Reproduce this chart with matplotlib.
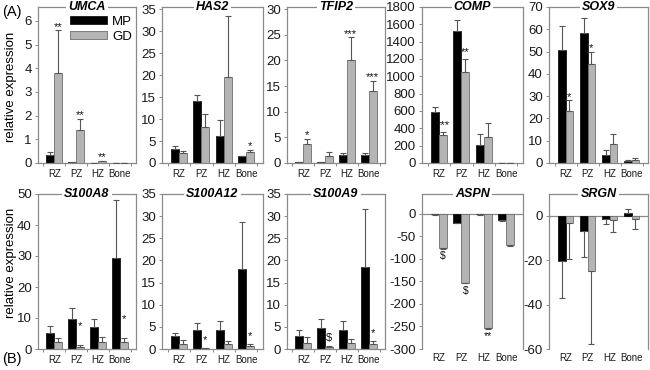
import matplotlib
matplotlib.use('Agg')
import matplotlib.pyplot as plt
from matplotlib.patches import Patch
import numpy as np

plt.rcParams['font.family'] = ['Liberation Sans', 'DejaVu Sans']

zones = ['RZ', 'PZ', 'HZ', 'Bone']

umca_mp = [0.32, 0.03, 0.01, 0.005]
umca_mp_err = [0.13, 0.02, 0.01, 0.0]
umca_gd = [3.82, 1.40, 0.07, 0.003]
umca_gd_err = [1.78, 0.47, 0.03, 0.0]
umca_sig = ['**', '**', '**', '']

has2_mp = [3.2, 14.0, 6.1, 1.5]
has2_mp_err = [0.7, 1.5, 3.6, 0.2]
has2_gd = [2.3, 8.3, 19.5, 2.6]
has2_gd_err = [0.5, 2.8, 14.0, 0.4]
has2_sig = ['', '', '', '*']

tfip2_mp = [0.1, 0.15, 1.55, 1.6]
tfip2_mp_err = [0.05, 0.05, 0.45, 0.4]
tfip2_gd = [3.7, 1.3, 20.1, 14.0]
tfip2_gd_err = [1.0, 0.8, 4.4, 2.0]
tfip2_sig = ['*', '', '***', '***']

comp_mp = [592, 1523, 212, 3]
comp_mp_err = [54, 123, 119, 0]
comp_gd = [323, 1050, 304, 2]
comp_gd_err = [39, 150, 158, 0]
comp_sig = ['***', '**', '', '']

sox9_mp = [50.8, 58.3, 3.7, 1.0]
sox9_mp_err = [10.5, 6.7, 2.3, 0.3]
sox9_gd = [23.2, 44.4, 8.5, 1.5]
sox9_gd_err = [4.9, 5.4, 4.4, 0.7]
sox9_sig = ['*', '*', '', '']

s100a8_mp = [5.2, 9.7, 7.0, 29.2]
s100a8_mp_err = [2.1, 3.4, 2.7, 18.8]
s100a8_gd = [2.2, 0.6, 2.4, 2.1]
s100a8_gd_err = [1.4, 0.6, 1.4, 1.5]
s100a8_sig = ['', '*', '', '*']

s100a12_mp = [2.9, 4.4, 4.2, 18.0]
s100a12_mp_err = [0.7, 1.5, 2.1, 10.7]
s100a12_gd = [1.1, 0.2, 1.1, 0.75]
s100a12_gd_err = [0.9, 0.1, 0.8, 0.45]
s100a12_sig = ['', '*', '', '*']

s100a9_mp = [2.9, 4.8, 4.2, 18.5]
s100a9_mp_err = [1.3, 2.0, 2.1, 13.1]
s100a9_gd = [1.4, 0.35, 1.4, 1.1]
s100a9_gd_err = [1.3, 0.25, 0.9, 0.8]
s100a9_sig = ['', '$', '', '*']

aspn_mp = [-1, -20, -1, -14]
aspn_mp_err = [0.5, 1, 0.5, 1]
aspn_gd = [-75, -152.5, -253.5, -70]
aspn_gd_err = [2, 1.5, 1.5, 1]
aspn_sig = ['$', '$', '**', '']

srgn_mp = [-20.4, -7.0, -1.4, 1.2]
srgn_mp_err = [16.5, 11.7, 2.1, 1.8]
srgn_gd = [-3.3, -24.8, -2.0, -1.5]
srgn_gd_err = [16.2, 32.9, 5.1, 4.4]
srgn_sig = ['', '', '', '']

W, H = 650, 370
fig = plt.figure(figsize=(6.5, 3.7), dpi=100)

BOX = '#8a8a8a'
GRAY = '#b4b4b4'
ERR = '#555555'

# (title, mp, mp_err, gd, gd_err, sig, ylim, yticks, left_px, right_px, row, sig_pad)
panels = [
    ('UMCA', umca_mp, umca_mp_err, umca_gd, umca_gd_err, umca_sig, (0, 6.59), np.arange(0, 7, 1), 38, 136, 0, 0),
    ('HAS2', has2_mp, has2_mp_err, has2_gd, has2_gd_err, has2_sig, (0, 35.5), np.arange(0, 36, 5), 162, 263, 0, 0),
    ('TFIP2', tfip2_mp, tfip2_mp_err, tfip2_gd, tfip2_gd_err, tfip2_sig, (0, 30.4), np.arange(0, 31, 5), 287, 385, 0, 0),
    ('COMP', comp_mp, comp_mp_err, comp_gd, comp_gd_err, comp_sig, (0, 1800), np.arange(0, 1801, 200), 422, 523, 0, 2),
    ('SOX9', sox9_mp, sox9_mp_err, sox9_gd, sox9_gd_err, sox9_sig, (0, 70), np.arange(0, 71, 10), 549, 648, 0, 0),
    ('S100A8', s100a8_mp, s100a8_mp_err, s100a8_gd, s100a8_gd_err, s100a8_sig, (0, 50), np.arange(0, 51, 10), 38, 136, 1, 11),
    ('S100A12', s100a12_mp, s100a12_mp_err, s100a12_gd, s100a12_gd_err, s100a12_sig, (0, 35), np.arange(0, 36, 5), 162, 263, 1, 3),
    ('S100A9', s100a9_mp, s100a9_mp_err, s100a9_gd, s100a9_gd_err, s100a9_sig, (0, 35), np.arange(0, 36, 5), 287, 385, 1, 3),
    ('ASPN', aspn_mp, aspn_mp_err, aspn_gd, aspn_gd_err, aspn_sig, (-300, 44), np.arange(-300, 1, 50), 422, 523, 1, 0),
    ('SRGN', srgn_mp, srgn_mp_err, srgn_gd, srgn_gd_err, srgn_sig, (-60, 9.9), np.arange(-60, 1, 20), 549, 648, 1, 0),
]

rows = {0: (163, 7), 1: (349, 194)}
bw = 0.36
x = np.arange(len(zones))

for (title, mp, mpe, gd, gde, sig, ylim, yticks, lpx, rpx, row, pad) in panels:
    bpx, tpx = rows[row]
    ax = fig.add_axes([lpx / W, 1 - bpx / H, (rpx - lpx) / W, (bpx - tpx) / H])
    mp = np.array(mp, float); gd = np.array(gd, float)
    mpe = np.array(mpe, float); gde = np.array(gde, float)
    ax.bar(x - bw / 2, mp, bw, color='black', edgecolor='black', lw=0.5, zorder=2)
    ax.bar(x + bw / 2, gd, bw, color=GRAY, edgecolor='#6e6e6e', lw=0.6, zorder=2)
    for xs, vals, errs in ((x - bw / 2, mp, mpe), (x + bw / 2, gd, gde)):
        lo = np.where(vals < 0, errs, 0)
        hi = np.where(vals >= 0, errs, 0)
        ax.errorbar(xs, vals, yerr=[lo, hi], fmt='none', ecolor=ERR, elinewidth=0.8,
                    capsize=2.2, capthick=0.8, zorder=3)
    for i, s in enumerate(sig):
        if not s:
            continue
        if gd[i] >= 0:
            yv = gd[i] + gde[i]
            ax.annotate(s, (x[i] + bw / 2, yv), xytext=(0, 0.5 + pad), textcoords='offset points',
                        ha='center', va='baseline', fontsize=8, color='#111111', zorder=4)
        else:
            yv = gd[i] - gde[i]
            ax.annotate(s, (x[i] + bw / 2, yv), xytext=(0, -2 - pad), textcoords='offset points',
                        ha='center', va='top', fontsize=7.5, color='#111111', zorder=4)
    ax.set_xlim(-0.75, 3.75)
    ax.set_ylim(*ylim)
    ax.set_yticks(yticks)
    ax.set_yticklabels([str(int(t)) for t in yticks], fontsize=9.5, color='#1a1a1a')
    ax.set_xticks(x)
    ax.set_xticklabels(zones, fontsize=7, color='#1a1a1a')
    ax.tick_params(axis='y', length=2.5, width=0.7, color=BOX, pad=2)
    for sp in ('left', 'right', 'top', 'bottom'):
        ax.spines[sp].set_color(BOX)
        ax.spines[sp].set_linewidth(0.9)
    if ylim[0] < 0:
        ax.spines['bottom'].set_visible(False)
        ax.axhline(0, color=BOX, lw=0.9, zorder=1)
        ax.tick_params(axis='x', length=0, pad=3)
    else:
        ax.tick_params(axis='x', length=0, pad=4)
        ax.set_xticks(np.arange(-0.5, 3.6, 1), minor=True)
        ax.tick_params(axis='x', which='minor', length=2.5, width=0.7, color=BOX)
    ax.text(0.5, 1.0, title, transform=ax.transAxes, ha='center', va='center',
            fontsize=9, fontweight='bold', fontstyle='italic', zorder=5, clip_on=False,
            bbox=dict(fc='white', ec='none', pad=1.5))
    if title == 'UMCA':
        handles = [Patch(fc='black', ec='black', lw=0.5, label='MP'),
                   Patch(fc=GRAY, ec='#6e6e6e', lw=0.6, label='GD')]
        ax.legend(handles=handles, loc='upper right', bbox_to_anchor=(1.0, 0.97), frameon=False,
                  fontsize=9.5, handlelength=2.8, handleheight=0.55, handletextpad=0.35,
                  labelspacing=0.25, borderaxespad=0.2, borderpad=0.1)

fig.text(11 / W, 1 - 87 / H, 'relative expression', rotation=90, ha='center', va='center', fontsize=9.5)
fig.text(11 / W, 1 - 263 / H, 'relative expression', rotation=90, ha='center', va='center', fontsize=9.5)
fig.text(2 / W, 1 - 12 / H, '(A)', ha='left', va='center', fontsize=10.5)
fig.text(2 / W, 1 - 359 / H, '(B)', ha='left', va='center', fontsize=10.5)

fig.savefig('out.png', dpi=100)
